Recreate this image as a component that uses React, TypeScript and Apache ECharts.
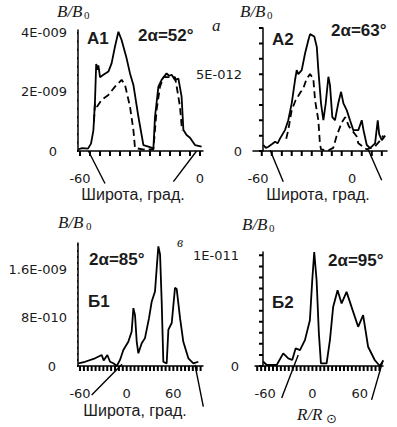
import React, { useEffect, useRef } from 'react';
import * as echarts from 'echarts';

type Pt = [number, number];

// ---------- Panel A1 (values in units of 1E-009) ----------
const a1Solid: Pt[] = [
  [-61, 0.05], [-59, 0.1], [-56, 0.08], [-54.5, 0.25], [-53.3, 0.7], [-52.5, 1.7], [-51.9, 2.95],
  [-51.2, 2.75], [-50.8, 2.9], [-50, 2.5], [-48.3, 2.58], [-45.8, 2.69], [-44.2, 2.97], [-42.5, 3.54],
  [-40.8, 4.04], [-39.2, 3.76], [-36.7, 3.14], [-35, 2.63], [-33.3, 2.24], [-30.8, 1.16], [-28.3, 0.2],
  [-25.8, 0.15], [-23.3, 0.09], [-22.5, 1.16], [-20.8, 2.18], [-19.2, 2.41], [-16.7, 2.63], [-15.5, 2.55],
  [-14.2, 2.58], [-12.5, 2.41], [-10.8, 2.45], [-9.2, 1.84], [-8.3, 0.71], [-6.7, 0.54], [-5, 0.45],
  [-2.5, 0.2], [0.8, 0.15],
];
const a1Dashed: Pt[] = [
  [-53, 1.0], [-52.5, 1.62], [-51.5, 1.5], [-49.2, 1.73], [-45.8, 1.9], [-42.5, 2.18], [-39.2, 2.41],
  [-37.5, 2.24], [-35, 1.5], [-33.3, 0.71], [-32.5, 0.1], [-28, 0.05], [-23.3, 0.05], [-21.7, 1.39],
  [-20, 2.18], [-18.3, 2.5], [-15, 2.5], [-12.5, 2.5], [-11.7, 2.2], [-10, 1.5], [-9, 0.7],
];
const a1Rays: Pt[][] = [
  [[-55.8, 0], [-47.5, -1.1]],
  [[-1.7, 0], [-13.3, -1.04]],
];
const a1XTicks = [-60, -55, -50, -45, -40, -35, -30, -25, -20, -15, -10, -5, 0];
const a1YTicks = [0, 0.286, 0.571, 0.857, 1.143, 1.429, 1.714, 2, 2.286, 2.571, 2.857, 3.143, 3.429, 3.714, 4];
const a1XLabels = [-60, 0];
const a1YLabelValues = [0, 2, 4];
const a1YLabelTexts = ['0', '2E-009', '4E-009'];

// ---------- Panel A2 (values in units of 1E-012) ----------
const a2Solid: Pt[] = [
  [-56.6, 0.39], [-55, 0.2], [-53.4, 0.28], [-51, 0.45], [-49.1, 0.6], [-47.5, 0.5], [-45.9, 0.82],
  [-42.8, 1.36], [-40.7, 2.0], [-38.5, 3.1], [-36.4, 4.6], [-35.3, 5.26], [-34.3, 5.0], [-32.1, 5.26],
  [-30, 6.34], [-27.9, 7.2], [-26.8, 7.6], [-24.1, 7.45], [-22.5, 6.77], [-21.5, 5.26], [-19.8, 3.1],
  [-18.3, 2.0], [-16.8, 3.1], [-15.1, 4.83], [-14.1, 4.3], [-12.6, 2.2], [-10.9, 2.0], [-8.8, 3.1],
  [-7.0, 3.85], [-5.5, 3.1], [-3.4, 2.66], [-1.3, 2.0], [0.8, 1.36], [4.0, 1.36], [6.2, 2.0], [7.3, 1.36],
  [9.4, 0.39], [11.5, 0.18], [14.7, 0.5], [16.4, 2.0], [17.3, 1.1], [19.0, 0.7], [21.1, 1.0],
];
const a2Dashed: Pt[] = [
  [-42, 0.8], [-40.7, 1.36], [-38.5, 2.66], [-36, 3.3], [-33, 3.8], [-31.1, 4.07], [-29, 4.7],
  [-26.8, 5.0], [-24.7, 4.7], [-23.6, 3.3], [-21.5, 2.0], [-20.5, 0.5], [-19.8, 0.1], [-15, 0.05],
  [-12, 0.2], [-9.9, 0.96], [-6.6, 1.85], [-4.4, 2.2], [-2, 1.6], [2.9, 0.96], [4, 0.5], [9.4, 0.1],
  [14.7, 0.3], [18, 0.7], [20, 1.0],
];
const a2Rays: Pt[][] = [
  [[-52.3, 0.06], [-43.9, -2.0]],
  [[10.4, 0.06], [18.9, -1.9]],
];
const a2XTicks = [-57.6, -51.2, -44.8, -38.5, -32.1, -25.7, -19.3, -12.9, -6.6, -0.2, 6.2, 12.6, 19];
const a2YTicks = [0, 1, 2, 3, 4, 5, 6, 7, 8];
const a2XLabels = [-60, 0];
const a2YLabelValues = [0, 5];
const a2YLabelTexts = ['0', '5E-012'];

// ---------- Panel Б1 (values in units of 1E-010) ----------
const b1Solid: Pt[] = [
  [-62.1, 0.45], [-53.6, 0.7], [-40.7, 1.27], [-32.1, 1.82], [-29.6, 0.9], [-24.9, 1.82], [-21.4, 0.7],
  [-17.1, 0.45], [-12.8, 0], [-8.6, 1.0], [-4.3, 2.65], [2.1, 4.0], [6.4, 5.7], [8.6, 9.55], [10.7, 8.4],
  [12.9, 4.0], [15, 2.1], [19.3, 3.75], [23.5, 4.6], [28.7, 7.9], [32.1, 10.6], [36.4, 12.3], [38.6, 16.2],
  [40.7, 19.75], [42.9, 18.4], [45, 10.6], [47.1, 0.7], [51.4, 0.4], [53.6, 6.0], [57.9, 7.1], [62.1, 12.9],
  [64.3, 12.7], [68.6, 7.9], [72.8, 4.0], [79.3, 1.27], [85.7, 0.45], [92.1, 0.7],
];
const b1Rays: Pt[][] = [
  [[-6, 0.3], [-45, -4.8]],
  [[87.8, 0.2], [98.5, -6.7]],
];
const b1XTicks = [-60, -55, -50, -45, -40, -35, -30, -25, -20, -15, -10, -5, 0, 5, 10, 15, 20, 25, 30, 35,
  40, 45, 50, 55, 60, 65, 70, 75, 80, 85, 90, 95];
const b1YTicks = [0, 1, 2, 3, 4, 5, 6, 7, 8, 9, 10, 11, 12, 13, 14, 15, 16, 17, 18, 19, 20];
const b1XLabels = [-60, 0, 60];
const b1YLabelValues = [0, 8, 16];
const b1YLabelTexts = ['0', '8E-010', '1.6E-009'];

// ---------- Panel Б2 (values in units of 1E-012) ----------
const b2Solid: Pt[] = [
  [-62.3, 0.4], [-58, 0.09], [-45.3, 0.09], [-37, 1.14], [-30.6, 0.69], [-25.6, 0.54], [-21.3, 1.59],
  [-15.8, 1.44], [-9.5, 2.34], [-3.2, 4.14], [-0.2, 7.75], [2.3, 10.3], [5.3, 7.75], [8.2, 2.94],
  [10.8, 0.24], [18, 0.24], [22.2, 2.34], [26.3, 5.34], [31.9, 6.85], [37, 5.65], [43.3, 6.7], [49.6, 5.34],
  [58, 3.54], [64.3, 4.6], [70.6, 1.74], [79, 0.54], [85.4, 0.0], [89.5, 0.45],
];
const b2Rays: Pt[][] = [
  [[-18, 1.0], [-39, -2.9]],
  [[89.6, 0.54], [75, -3.06]],
];
const b2XTicks = [-70, -65, -60, -55, -50, -45, -40, -35, -30, -25, -20, -15, -10, -5, 0, 5, 10, 15, 20, 25,
  30, 35, 40, 45, 50, 55, 60, 65, 70, 75, 80, 85];
const b2YTicks = [0, 1, 2, 3, 4, 5, 6, 7, 8, 9, 10];
const b2XLabels = [-60, 0, 60];
const b2YLabelValues = [0, 10];
const b2YLabelTexts = ['0', '1E-011'];

const TICK_FONT = '"DejaVu Sans", "Liberation Sans", sans-serif';
const TEXT_COLOR = '#1a1a1a';

interface PanelCfg {
  grid: { left: number; top: number; width: number; height: number };
  xMin: number; xMax: number; yMax: number; yAxisAtX: number;
  xTicks: number[]; yTicks: number[];
  xLabels: number[]; yLabelValues: number[]; yLabelTexts: string[];
  yOffset: number; yMargin: number; zeroPad: number;
  solid: Pt[]; dashed?: Pt[]; rays: Pt[][];
}

function buildPanel(i: number, c: PanelCfg) {
  const grid = { ...c.grid };
  const xAxis = {
    gridIndex: i, type: 'value', min: c.xMin, max: c.xMax,
    axisLine: { show: true, onZero: false, lineStyle: { color: '#000', width: 1.5 } },
    axisTick: { show: false },
    axisLabel: {
      show: true, customValues: c.xLabels, margin: 21, fontFamily: TICK_FONT, fontSize: 13, color: TEXT_COLOR,
      formatter: (v: number) => String(Math.round(v)),
    },
    splitLine: { show: false },
  };
  const yAxis = {
    gridIndex: i, type: 'value', min: 0, max: c.yMax, offset: c.yOffset,
    axisLine: { show: true, onZero: false, lineStyle: { color: '#000', width: 1.5 } },
    axisTick: { show: false },
    axisLabel: {
      show: true, customValues: c.yLabelValues, margin: c.yMargin, fontFamily: TICK_FONT, fontSize: 13, color: TEXT_COLOR,
      formatter: (v: number) => {
        const idx = c.yLabelValues.findIndex((u) => Math.abs(u - v) < 1e-6);
        const t = idx >= 0 ? c.yLabelTexts[idx] : '';
        return v === 0 && c.zeroPad > 0 ? '{z|' + t + '}' : t;
      },
      rich: { z: { padding: [0, c.zeroPad, 0, 0], fontFamily: TICK_FONT, fontSize: 13, color: TEXT_COLOR } },
    },
    splitLine: { show: false },
  };
  const line = { xAxisIndex: i, yAxisIndex: i, clip: false, silent: true, type: 'line', showSymbol: false, symbol: 'none' };
  const series: any[] = [
    { ...line, data: c.solid, lineStyle: { color: '#000', width: 1.8 } },
  ];
  if (c.dashed) series.push({ ...line, data: c.dashed, lineStyle: { color: '#000', width: 1.8, type: [7, 4] } });
  c.rays.forEach((r) => series.push({ ...line, data: r, lineStyle: { color: '#000', width: 1.4 } }));

  // tick marks through the axis scales: 5px below the x axis, 4px left of the y axis
  const xTickLen = 5 * c.yMax / c.grid.height;
  const yTickLen = 4 * (c.xMax - c.xMin) / c.grid.width;
  const xSegs: any[] = [];
  c.xTicks.forEach((v) => { xSegs.push([v, 0], [v, -xTickLen], null); });
  const ySegs: any[] = [];
  c.yTicks.forEach((v) => { ySegs.push([c.yAxisAtX, v], [c.yAxisAtX - yTickLen, v], null); });
  series.push({ ...line, data: xSegs, lineStyle: { color: '#000', width: 2 } });
  series.push({ ...line, data: ySegs, lineStyle: { color: '#000', width: 2 } });
  return { grid, xAxis, yAxis, series };
}

function txt(x: number, y: number, text: string, font: string, align = 'left') {
  return {
    type: 'text', x, y, silent: true,
    style: { text, font, fill: TEXT_COLOR, align, textAlign: align, verticalAlign: 'middle', textVerticalAlign: 'middle' },
  };
}

export default function App() {
  const ref = useRef<HTMLDivElement>(null);
  useEffect(() => {
    document.body.style.margin = '0';
    if (!ref.current) return;
    const chart = echarts.init(ref.current, undefined, { renderer: 'svg' });

    const panels = [
      buildPanel(0, {
        grid: { left: 78, top: 30, width: 125, height: 121 },
        xMin: -61, xMax: 1.5, yMax: 4.1, yAxisAtX: -61,
        xTicks: a1XTicks, yTicks: a1YTicks,
        xLabels: a1XLabels, yLabelValues: a1YLabelValues, yLabelTexts: a1YLabelTexts,
        yOffset: 0, yMargin: 11, zeroPad: 10,
        solid: a1Solid, dashed: a1Dashed, rays: a1Rays,
      }),
      buildPanel(1, {
        grid: { left: 253, top: 28, width: 134, height: 123 },
        xMin: -63.2, xMax: 22.3, yMax: 8, yAxisAtX: -56.82,
        xTicks: a2XTicks, yTicks: a2YTicks,
        xLabels: a2XLabels, yLabelValues: a2YLabelValues, yLabelTexts: a2YLabelTexts,
        yOffset: -10, yMargin: 21, zeroPad: 0,
        solid: a2Solid, dashed: a2Dashed, rays: a2Rays,
      }),
      buildPanel(2, {
        grid: { left: 78, top: 243, width: 125, height: 123 },
        xMin: -62.6, xMax: 98.1, yMax: 20.3, yAxisAtX: -62.6,
        xTicks: b1XTicks, yTicks: b1YTicks,
        xLabels: b1XLabels, yLabelValues: b1YLabelValues, yLabelTexts: b1YLabelTexts,
        yOffset: 0, yMargin: 11, zeroPad: 11,
        solid: b1Solid, rays: b1Rays,
      }),
      buildPanel(3, {
        grid: { left: 255, top: 252, width: 128, height: 114 },
        xMin: -72.8, xMax: 89.5, yMax: 10.3, yAxisAtX: -62.67,
        xTicks: b2XTicks, yTicks: b2YTicks,
        xLabels: b2XLabels, yLabelValues: b2YLabelValues, yLabelTexts: b2YLabelTexts,
        yOffset: -8, yMargin: 24, zeroPad: 0,
        solid: b2Solid, rays: b2Rays,
      }),
    ];

    const serif = 'italic 17px "Liberation Serif", "Times New Roman", serif';
    const sub = '11px "Liberation Serif", "Times New Roman", serif';
    const bold = 'bold 17px "Liberation Sans", Arial, sans-serif';
    const axisName = '16px "Liberation Sans", Arial, sans-serif';

    const texts = [
      txt(57, 11, 'B/B', serif), txt(84, 15, '0', sub),
      txt(240, 11, 'B/B', serif), txt(267, 15, '0', sub),
      txt(58, 222, 'B/B', serif), txt(86, 226, '0', sub),
      txt(242, 224, 'B/B', serif), txt(269, 228, '0', sub),
      txt(212, 25.5, 'а', 'italic 17px "Liberation Serif", serif'),
      txt(177, 242, 'в', 'italic 14px "Liberation Serif", serif'),
      txt(87, 38.5, 'A1', bold),
      txt(138, 35.5, '2α=52°', bold),
      txt(272, 39, 'A2', bold),
      txt(331, 30, '2α=63°', bold),
      txt(89, 259, '2α=85°', bold),
      txt(88, 301, 'Б1', bold),
      txt(328, 260, '2α=95°', bold),
      txt(272, 302.5, 'Б2', bold),
      txt(133, 194, 'Широта, град.', axisName, 'center'),
      txt(318, 194, 'Широта, град.', axisName, 'center'),
      txt(135, 410, 'Широта, град.', axisName, 'center'),
      txt(297, 414, 'R/R', serif),
      txt(326, 418, '⊙', '13px "DejaVu Sans", serif'),
    ];

    chart.setOption({
      animation: false,
      grid: panels.map((p) => p.grid),
      xAxis: panels.map((p) => p.xAxis),
      yAxis: panels.map((p) => p.yAxis),
      series: panels.flatMap((p) => p.series),
      graphic: { elements: texts },
    } as any);

    return () => chart.dispose();
  }, []);

  return <div ref={ref} style={{ width: 397, height: 427 }} />;
}
